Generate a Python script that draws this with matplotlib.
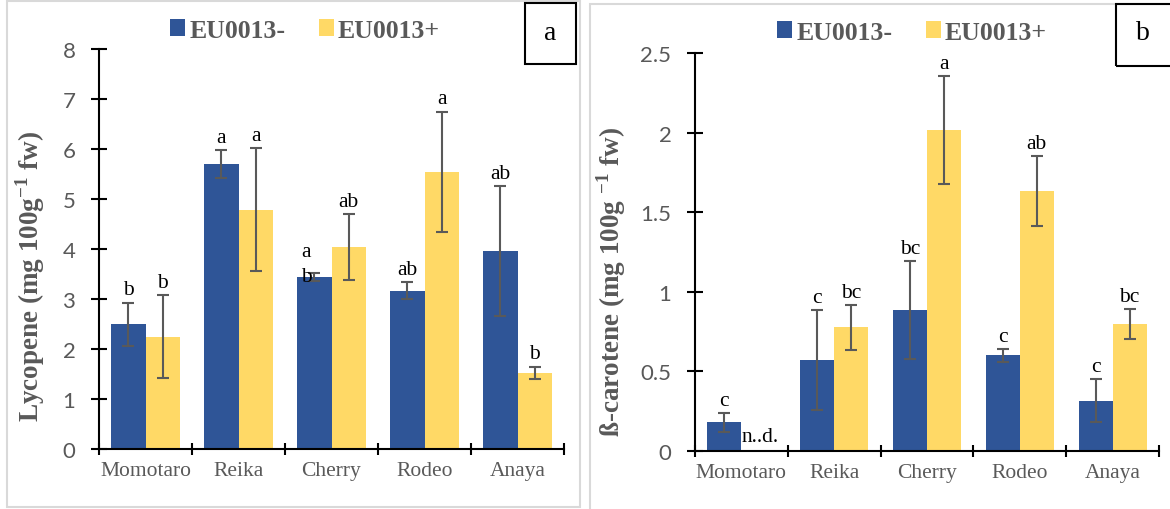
import numpy as np
import matplotlib
matplotlib.use("Agg")
import matplotlib.pyplot as plt
from matplotlib.patches import Rectangle, Patch

plt.rcParams['mathtext.fontset'] = 'custom'
plt.rcParams['mathtext.rm'] = 'Liberation Serif:bold'
plt.rcParams['mathtext.bf'] = 'Liberation Serif:bold'

# donnees
cultivars = ["Momotaro", "Reika", "Cherry", "Rodeo", "Anaya"]
series = ["EU0013-", "EU0013+"]

lyc_moins = [2.50, 5.70, 3.44, 3.17, 3.96]
lyc_moins_err = [0.43, 0.28, 0.08, 0.17, 1.30]
lyc_plus = [2.25, 4.79, 4.04, 5.55, 1.53]
lyc_plus_err = [0.83, 1.23, 0.66, 1.20, 0.12]
lyc_lettres_moins = ["b", "a", "a\nb", "ab", "ab"]
lyc_lettres_plus = ["b", "a", "ab", "a", "b"]

car_moins = [0.18, 0.57, 0.885, 0.60, 0.315]
car_moins_err = [0.06, 0.315, 0.31, 0.04, 0.135]
car_plus = [0.0, 0.775, 2.015, 1.635, 0.795]
car_plus_err = [0.0, 0.14, 0.34, 0.22, 0.093]
car_lettres_moins = ["c", "c", "bc", "c", "c"]
car_lettres_plus = ["n..d.", "bc", "a", "ab", "bc"]

bleu = "#2F5597"
jaune = "#FFD966"
gris = "#595959"

W, H = 1170, 510
fig = plt.figure(figsize=(W / 100, H / 100), dpi=100)


def px_axes(x0, y0, x1, y1):
    # x0,y0 = coin haut gauche en pixels
    return fig.add_axes([x0 / W, 1 - y1 / H, (x1 - x0) / W, (y1 - y0) / H])


def cadre(x0, y0, x1, y1, couleur, lw):
    fig.patches.append(Rectangle((x0 / W, 1 - y1 / H), (x1 - x0) / W, (y1 - y0) / H,
                                 transform=fig.transFigure, fill=False,
                                 edgecolor=couleur, linewidth=lw, zorder=0))


def panneau(ax, moins, moins_err, plus, plus_err, let_m, let_p, ymax, ystep):
    x = np.arange(len(cultivars)) + 0.5
    w = 0.366
    ax.bar(x - w / 2, moins, w, color=bleu, zorder=2)
    ax.bar(x + w / 2, plus, w, color=jaune, zorder=2)
    em = np.array(moins_err)
    ep = np.array(plus_err)
    ax.errorbar(x - w / 2, moins, yerr=em, fmt='none', ecolor=gris, elinewidth=1.5,
                capsize=4, capthick=1.5, zorder=3)
    msk = ep > 0
    ax.errorbar((x + w / 2)[msk], np.array(plus)[msk], yerr=ep[msk], fmt='none',
                ecolor=gris, elinewidth=1.5, capsize=4, capthick=1.5, zorder=3)
    # lettres au-dessus des barres d'erreur
    off = ymax / 400 * 8
    fs = 15.5
    for i in range(len(cultivars)):
        for xx, v, e, t in [(x[i] - w / 2, moins[i], em[i], let_m[i]),
                            (x[i] + w / 2, plus[i], ep[i], let_p[i])]:
            if t == "n..d.":
                ax.text(xx - w / 2, ymax * 0.024, t, ha='left', va='baseline',
                        fontsize=fs, family='Liberation Serif', zorder=4)
            elif "\n" in t:
                a, b = t.split("\n")
                ax.text(xx - 0.09, v + e + off * 2.1, a, ha='center', va='baseline',
                        fontsize=fs, family='Liberation Serif', zorder=4)
                ax.text(xx - 0.09, v + e - off * 1.0, b, ha='center', va='baseline',
                        fontsize=fs, family='Liberation Serif', zorder=4)
            else:
                ax.text(xx, v + e + off, t, ha='center', va='baseline',
                        fontsize=fs, family='Liberation Serif', zorder=4)

    ax.set_xlim(0, 5)
    ax.set_ylim(0, ymax)
    ax.set_xticks(np.arange(6))
    ax.set_xticklabels([])
    ax.set_xticks(x, minor=True)
    ax.set_xticklabels(cultivars, minor=True, family='Liberation Serif',
                       fontsize=15.5, color=gris)
    ax.tick_params(axis='x', which='major', direction='inout', length=8, width=1.5)
    ax.tick_params(axis='x', which='minor', length=0, pad=9)
    ax.set_yticks(np.arange(0, ymax + ystep / 2, ystep))
    ax.set_yticklabels(["%g" % v for v in np.arange(0, ymax + ystep / 2, ystep)],
                       family='Lato', fontsize=16, color=gris)
    ax.tick_params(axis='y', direction='inout', length=12, width=1.5, pad=11)
    for s in ['top', 'right']:
        ax.spines[s].set_visible(False)
    for s in ['left', 'bottom']:
        ax.spines[s].set_linewidth(1.5)
        ax.spines[s].set_color('black')
        ax.spines[s].set_zorder(5)
    ax.spines['left'].set_bounds(0, ymax)


# cadres gris des deux panneaux
cadre(7, 2, 580, 508, "#D9D9D9", 1.5)
cadre(590, 5, 1185, 520, "#D9D9D9", 1.5)

ax1 = px_axes(99, 50, 564, 450)
panneau(ax1, lyc_moins, lyc_moins_err, lyc_plus, lyc_plus_err,
        lyc_lettres_moins, lyc_lettres_plus, 8, 1)
ax2 = px_axes(695, 54, 1159, 451.7)
panneau(ax2, car_moins, car_moins_err, car_plus, car_plus_err,
        car_lettres_moins, car_lettres_plus, 2.5, 0.5)

fig.text(30 / W, 1 - 276 / H, "Lycopene (mg 100g$^{-1}$ fw)", rotation=90,
         ha='center', va='center', family='Liberation Serif', weight='bold',
         fontsize=19.5, color=gris)
fig.text(611 / W, 1 - 282 / H, "ß-carotene (mg 100g $^{-1}$ fw)", rotation=90,
         ha='center', va='center', family='Liberation Serif', weight='bold',
         fontsize=19.5, color=gris)

# legendes
poignees = [Patch(facecolor=bleu), Patch(facecolor=jaune)]
for cx, cy in [(305, 31), (912, 33)]:
    leg = fig.legend(poignees, series, loc='center', ncol=2, frameon=False,
                     bbox_to_anchor=(cx / W, 1 - cy / H),
                     prop={'family': 'Liberation Serif', 'weight': 'bold', 'size': 18.5},
                     handlelength=0.6, handleheight=0.6, handletextpad=0.15,
                     columnspacing=1.3, borderpad=0)
    for t in leg.get_texts():
        t.set_color(gris)

# etiquettes des panneaux
cadre(525, 4, 576, 65, "black", 1.5)
fig.text(550.5 / W, 1 - 34 / H, "a", ha='center', va='center',
         family='Liberation Serif', fontsize=20)
cadre(1116, 5, 1185, 67, "black", 1.5)
fig.text(1143 / W, 1 - 34 / H, "b", ha='center', va='center',
         family='Liberation Serif', fontsize=20)

fig.savefig("out.png", dpi=100, facecolor='white')
